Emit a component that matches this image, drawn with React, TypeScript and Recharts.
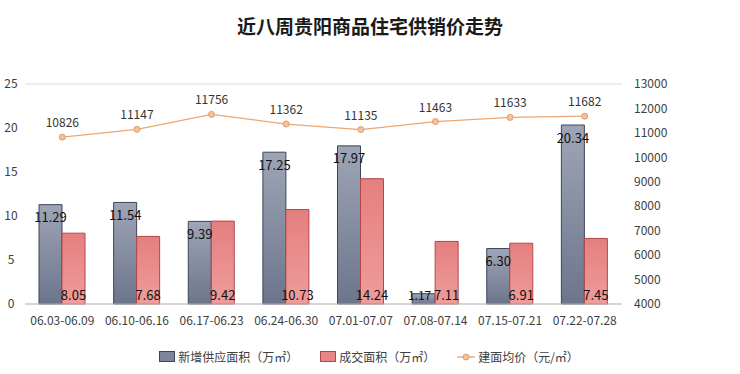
import React from 'react';
import {
  ComposedChart,
  Bar,
  Line,
  XAxis,
  YAxis,
  CartesianGrid,
  LabelList,
} from 'recharts';

const weeks = [
  '06.03-06.09',
  '06.10-06.16',
  '06.17-06.23',
  '06.24-06.30',
  '07.01-07.07',
  '07.08-07.14',
  '07.15-07.21',
  '07.22-07.28',
];
const supplyArea = [11.29, 11.54, 9.39, 17.25, 17.97, 1.17, 6.3, 20.34];
const dealArea = [8.05, 7.68, 9.42, 10.73, 14.24, 7.11, 6.91, 7.45];
const avgPrice = [10826, 11147, 11756, 11362, 11135, 11463, 11633, 11682];

const leftTicks = [0, 5, 10, 15, 20, 25];
const rightTicks = [4000, 5000, 6000, 7000, 8000, 9000, 10000, 11000, 12000, 13000];

const rows = weeks.map((week, i) => ({
  week,
  supply: supplyArea[i],
  deal: dealArea[i],
  price: avgPrice[i],
}));

const FONT = '"Noto Sans CJK SC", "Noto Sans", sans-serif';

// supply label sits just inside the bar top; short bars keep it above the axis
const SupplyLabel = (props: any) => {
  const { x, y, width, height, value } = props;
  const short = height < 24;
  const ty = short ? y + height - 10 : y + 12;
  const tx = short ? x + width / 2 - 4 : x + width / 2;
  return (
    <text
      x={tx}
      y={ty}
      textAnchor="middle"
      dominantBaseline="central"
      fill="#111"
      fontSize={short ? 12 : 13}
      fontFamily={FONT}
    >
      {Number(value).toFixed(2)}
    </text>
  );
};

const LegendItem: React.FC<{ kind: 'bar' | 'line'; fill: string; stroke: string; text: string }> = ({
  kind,
  fill,
  stroke,
  text,
}) => (
  <div style={{ display: 'flex', alignItems: 'center', marginRight: 22 }}>
    {kind === 'bar' ? (
      <span
        style={{
          display: 'inline-block',
          width: 14,
          height: 9,
          background: fill,
          border: `1px solid ${stroke}`,
          marginRight: 3,
        }}
      />
    ) : (
      <svg width={18} height={10} style={{ marginRight: 3 }}>
        <line x1={0} y1={5} x2={18} y2={5} stroke={stroke} strokeWidth={1.2} />
        <circle cx={9} cy={5} r={3} fill={fill} stroke={stroke} />
      </svg>
    )}
    <span>{text}</span>
  </div>
);

const App: React.FC = () => (
  <div style={{ position: 'absolute', left: 0, top: 0, width: 740, height: 374, background: '#fff', fontFamily: FONT }}>
    <div
      style={{
        position: 'absolute',
        top: 12,
        width: 740,
        textAlign: 'center',
        fontSize: 19,
        fontWeight: 'bold',
        color: '#1a1a1a',
      }}
    >
      近八周贵阳商品住宅供销价走势
    </div>
    <ComposedChart
      width={740}
      height={374}
      data={rows}
      margin={{ top: 84, right: 58, bottom: 40, left: 0 }}
      barGap={0}
      style={{ fontFamily: FONT }}
    >
      <defs>
        <linearGradient id="supplyFill" x1="0" y1="0" x2="0" y2="1">
          <stop offset="0%" stopColor="#9ea5b7" />
          <stop offset="100%" stopColor="#6d758b" />
        </linearGradient>
        <linearGradient id="dealFill" x1="0" y1="0" x2="0" y2="1">
          <stop offset="0%" stopColor="#e57f80" />
          <stop offset="100%" stopColor="#ef9c9b" />
        </linearGradient>
      </defs>
      <CartesianGrid vertical={false} stroke="#dcdcdc" />
      <XAxis
        dataKey="week"
        height={30}
        tickLine={false}
        axisLine={{ stroke: '#bfbfbf' }}
        tick={{ fontSize: 12, fill: '#404040' }}
        tickMargin={6}
        interval={0}
      />
      <YAxis
        yAxisId="left"
        width={25}
        domain={[0, 25]}
        ticks={leftTicks}
        axisLine={false}
        tickLine={false}
        tick={{ fontSize: 12, fill: '#404040', textAnchor: 'middle' }}
        dx={-6}
      />
      <YAxis
        yAxisId="right"
        orientation="right"
        width={60}
        domain={[4000, 13000]}
        ticks={rightTicks}
        axisLine={false}
        tickLine={false}
        tick={{ fontSize: 12, fill: '#404040' }}
        dx={4}
      />
      <Bar
        yAxisId="left"
        dataKey="supply"
        barSize={23}
        fill="url(#supplyFill)"
        stroke="#3e4558"
        strokeWidth={1}
        isAnimationActive={false}
      >
        <LabelList dataKey="supply" content={SupplyLabel} />
      </Bar>
      <Bar
        yAxisId="left"
        dataKey="deal"
        barSize={23}
        fill="url(#dealFill)"
        stroke="#b04848"
        strokeWidth={1}
        isAnimationActive={false}
      >
        <LabelList dataKey="deal" position="insideBottom" offset={4} fill="#111" fontSize={13} formatter={(v: number) => v.toFixed(2)} />
      </Bar>
      <Line
        yAxisId="right"
        dataKey="price"
        stroke="#eaa775"
        strokeWidth={1.3}
        dot={{ r: 3, fill: '#f3c39f', stroke: '#e39a66', strokeWidth: 1 }}
        isAnimationActive={false}
      >
        <LabelList dataKey="price" position="top" offset={10} fill="#333" fontSize={12} />
      </Line>
    </ComposedChart>
    <div
      style={{
        position: 'absolute',
        top: 348,
        width: 740,
        display: 'flex',
        justifyContent: 'center',
        fontSize: 12,
        color: '#404040',
        paddingLeft: 20,
        boxSizing: 'border-box',
      }}
    >
      <LegendItem kind="bar" fill="#7e869b" stroke="#3e4558" text="新增供应面积（万㎡）" />
      <LegendItem kind="bar" fill="#e88788" stroke="#b04848" text="成交面积（万㎡）" />
      <LegendItem kind="line" fill="#f3c39f" stroke="#e39a66" text="建面均价（元/㎡）" />
    </div>
  </div>
);

export default App;
